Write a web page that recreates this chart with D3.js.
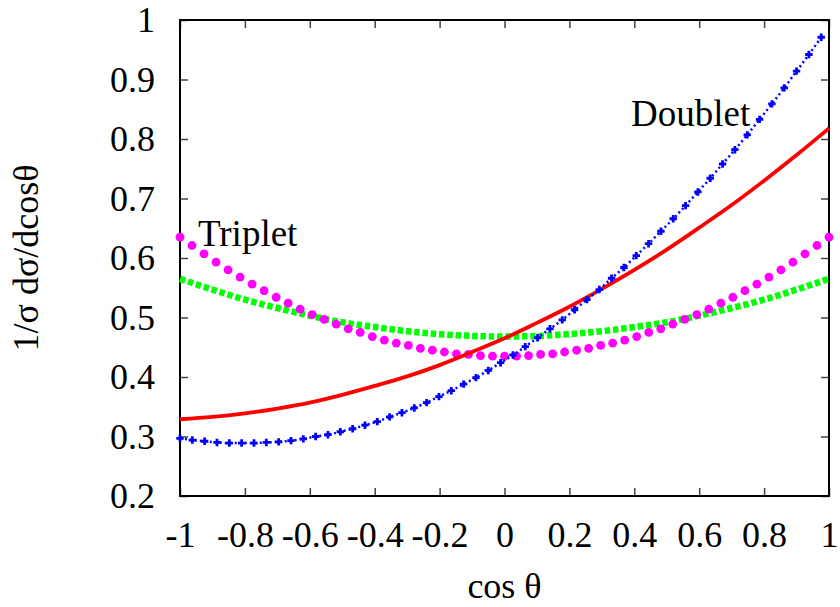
<!DOCTYPE html>
<html>
<head>
<meta charset="utf-8">
<script src="https://cdn.jsdelivr.net/npm/d3@7"></script>
<style>
	body { margin: 0; background: #fff; }
	svg { display: block; }
</style>
</head>
<body>
<svg id="chart" width="840" height="607"></svg>
<script>
// x grid for the solid red and the green curve
var cosCoarse = [-1, -0.9, -0.8, -0.7, -0.6, -0.5, -0.4, -0.3, -0.2, -0.1, 0,
	0.1, 0.2, 0.3, 0.4, 0.5, 0.6, 0.7, 0.8, 0.9, 1];

var doubletRed = [0.329, 0.333, 0.339, 0.347, 0.357, 0.370, 0.385, 0.401, 0.420, 0.442, 0.465,
	0.491, 0.518, 0.548, 0.580, 0.614, 0.651, 0.689, 0.730, 0.773, 0.818];

var tripletGreen = [0.565, 0.547, 0.530, 0.516, 0.503, 0.492, 0.484, 0.477, 0.472, 0.469, 0.468,
	0.469, 0.472, 0.477, 0.484, 0.492, 0.503, 0.516, 0.530, 0.547, 0.565];

var doubletBlue = [0.297, 0.294, 0.292, 0.290, 0.289, 0.289, 0.289, 0.290, 0.291, 0.293,
	0.296, 0.300, 0.303, 0.308, 0.313, 0.319, 0.325, 0.333, 0.340, 0.348,
	0.357, 0.367, 0.377, 0.388, 0.399, 0.411, 0.424, 0.437, 0.451, 0.466,
	0.481, 0.496, 0.513, 0.530, 0.547, 0.566, 0.584, 0.604, 0.624, 0.645,
	0.666, 0.688, 0.711, 0.734, 0.758, 0.782, 0.807, 0.833, 0.859, 0.886,
	0.914, 0.942, 0.971];

var tripletMagenta = [0.635, 0.621, 0.607, 0.593, 0.580, 0.568, 0.556, 0.545, 0.534, 0.524,
	0.514, 0.505, 0.497, 0.489, 0.481, 0.475, 0.468, 0.462, 0.457, 0.453,
	0.448, 0.445, 0.442, 0.439, 0.438, 0.436, 0.435, 0.435, 0.435, 0.436,
	0.438, 0.439, 0.442, 0.445, 0.448, 0.453, 0.457, 0.462, 0.468, 0.475,
	0.481, 0.489, 0.497, 0.505, 0.514, 0.524, 0.534, 0.545, 0.556, 0.568,
	0.580, 0.593, 0.607, 0.621, 0.635];

// sample spacing of the two point series
var blueStep = 0.038;
var magentaStep = 2 / 54;

var xTickValues = [-1, -0.8, -0.6, -0.4, -0.2, 0, 0.2, 0.4, 0.6, 0.8, 1];
var xTickLabels = ["-1", "-0.8", "-0.6", "-0.4", "-0.2", "0", "0.2", "0.4", "0.6", "0.8", "1"];
var yTickValues = [0.2, 0.3, 0.4, 0.5, 0.6, 0.7, 0.8, 0.9, 1];
var yTickLabels = ["0.2", "0.3", "0.4", "0.5", "0.6", "0.7", "0.8", "0.9", "1"];

var plotLeft = 180, plotRight = 829, plotTop = 20, plotBottom = 496;
var fontFamily = "'Liberation Serif', 'Times New Roman', serif";

var svg = d3.select("#chart");

var x = d3.scaleLinear().domain([-1, 1]).range([plotLeft, plotRight]);
var y = d3.scaleLinear().domain([0.2, 1]).range([plotBottom, plotTop]);

function pairs(xs, ys) {
	return ys.map(function (v, i) { return [xs[i], v]; });
}

var blueGrid = doubletBlue.map(function (d, i) { return -1 + i * blueStep; });
var magentaGrid = tripletMagenta.map(function (d, i) { return -1 + i * magentaStep; });

var line = d3.line()
	.x(function (d) { return x(d[0]); })
	.y(function (d) { return y(d[1]); })
	.curve(d3.curveMonotoneX);

// axes, ticks pointing inward
function styleAxis(g) {
	g.select(".domain").remove();
	g.selectAll(".tick line").attr("stroke", "#444").attr("stroke-width", 1.5);
	g.selectAll(".tick text")
		.attr("fill", "#000")
		.attr("font-size", 36)
		.attr("font-family", fontFamily);
}

svg.append("g")
	.attr("transform", "translate(0," + plotBottom + ")")
	.call(d3.axisBottom(x).tickValues(xTickValues).tickSize(-8).tickPadding(25)
		.tickFormat(function (d, i) { return xTickLabels[i]; }))
	.call(styleAxis);

svg.append("g")
	.attr("transform", "translate(0," + plotTop + ")")
	.call(d3.axisTop(x).tickValues(xTickValues).tickSize(-8).tickFormat(""))
	.call(styleAxis);

svg.append("g")
	.attr("transform", "translate(" + plotLeft + ",0)")
	.call(d3.axisLeft(y).tickValues(yTickValues).tickSize(-8).tickPadding(25)
		.tickFormat(function (d, i) { return yTickLabels[i]; }))
	.call(styleAxis);

svg.append("g")
	.attr("transform", "translate(" + plotRight + ",0)")
	.call(d3.axisRight(y).tickValues(yTickValues).tickSize(-8).tickFormat(""))
	.call(styleAxis);

svg.append("rect")
	.attr("x", plotLeft)
	.attr("y", plotTop)
	.attr("width", plotRight - plotLeft)
	.attr("height", plotBottom - plotTop)
	.attr("fill", "none")
	.attr("stroke", "#000")
	.attr("stroke-width", 2);

// green, thick square dots
svg.append("path")
	.datum(pairs(cosCoarse, tripletGreen))
	.attr("d", line)
	.attr("fill", "none")
	.attr("stroke", "#00ff00")
	.attr("stroke-width", 6.5)
	.attr("stroke-dasharray", "5.5,2.8");

// magenta, round points
svg.append("g").selectAll("circle")
	.data(pairs(magentaGrid, tripletMagenta))
	.enter().append("circle")
	.attr("cx", function (d) { return x(d[0]); })
	.attr("cy", function (d) { return y(d[1]); })
	.attr("r", 4.4)
	.attr("fill", "#ff00ff");

// red, solid
svg.append("path")
	.datum(pairs(cosCoarse, doubletRed))
	.attr("d", line)
	.attr("fill", "none")
	.attr("stroke", "#ff0000")
	.attr("stroke-width", 3.8);

// blue, dotted with plus points
var bluePts = pairs(blueGrid, doubletBlue);
svg.append("path")
	.datum(bluePts)
	.attr("d", line)
	.attr("fill", "none")
	.attr("stroke", "#0000ff")
	.attr("stroke-width", 2.5)
	.attr("stroke-dasharray", "2,3");

svg.append("g").selectAll("path")
	.data(bluePts)
	.enter().append("path")
	.attr("transform", function (d) { return "translate(" + x(d[0]) + "," + y(d[1]) + ")"; })
	.attr("d", "M-3.7,0H3.7M0,-3.7V3.7")
	.attr("stroke", "#0000ff")
	.attr("stroke-width", 2.8);

// labels
svg.append("text")
	.attr("x", 631)
	.attr("y", 126)
	.attr("font-size", 37)
	.attr("font-family", fontFamily)
	.text("Doublet");

svg.append("text")
	.attr("x", 198)
	.attr("y", 246)
	.attr("font-size", 37)
	.attr("font-family", fontFamily)
	.text("Triplet");

svg.append("text")
	.attr("x", (plotLeft + plotRight) / 2)
	.attr("y", 598)
	.attr("text-anchor", "middle")
	.attr("font-size", 36)
	.attr("font-family", fontFamily)
	.text("cos θ");

svg.append("text")
	.attr("transform", "translate(38," + (plotTop + plotBottom) / 2 + ") rotate(-90)")
	.attr("text-anchor", "middle")
	.attr("font-size", 36)
	.attr("font-family", fontFamily)
	.text("1/σ dσ/dcosθ");
</script>
</body>
</html>
